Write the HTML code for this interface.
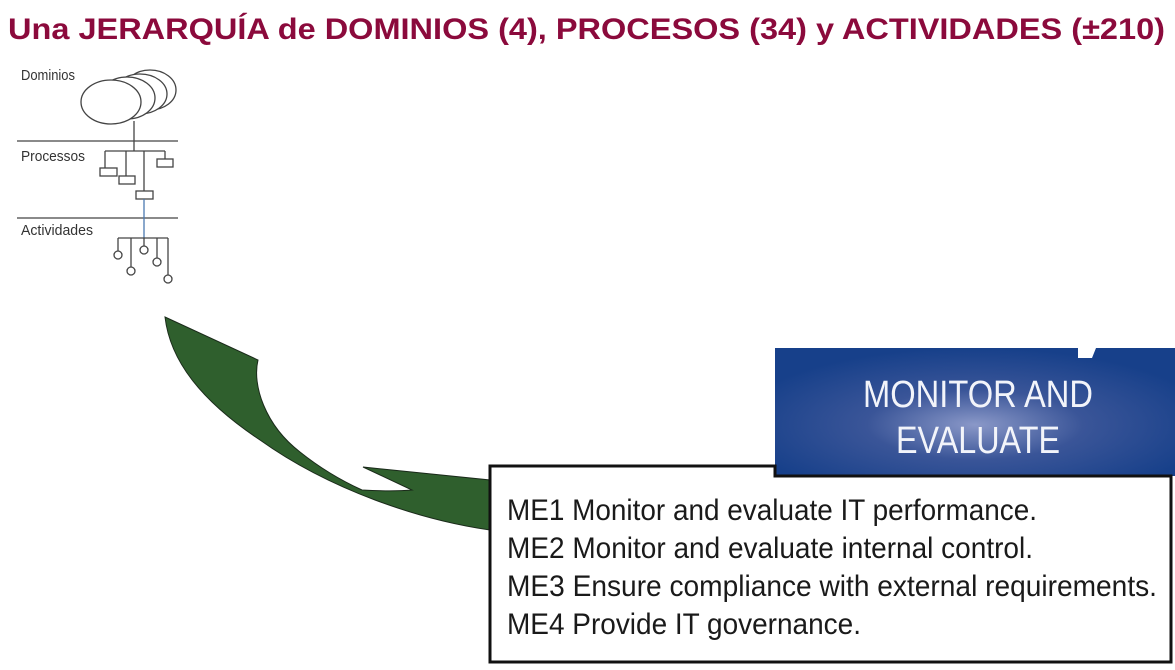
<!DOCTYPE html>
<html><head><meta charset="utf-8"><style>
html,body{margin:0;padding:0;background:#fff;width:1175px;height:670px;overflow:hidden}
svg{display:block}
</style></head><body>
<svg width="1175" height="670" viewBox="0 0 1175 670" xmlns="http://www.w3.org/2000/svg">
<defs>
<radialGradient id="bg" cx="0.5" cy="0.6" r="0.6">
<stop offset="0" stop-color="#8a98c8"/><stop offset="0.45" stop-color="#3a5598"/><stop offset="1" stop-color="#17408a"/>
</radialGradient>
</defs>
<text x="8" y="39" font-family="Liberation Sans, sans-serif" font-weight="bold" font-size="30" fill="#8b0a3c" textLength="1157" lengthAdjust="spacingAndGlyphs">Una JERARQUÍA de DOMINIOS (4), PROCESOS (34) y ACTIVIDADES (±210)</text>

<g stroke="#444" stroke-width="1.3" fill="#fff">
<ellipse cx="150" cy="90" rx="26" ry="20"/>
<ellipse cx="140" cy="94" rx="27" ry="20"/>
<ellipse cx="127" cy="98" rx="28" ry="21"/>
<ellipse cx="111" cy="102" rx="30" ry="22"/>
<line x1="17" y1="141" x2="178" y2="141"/>
<line x1="17" y1="218" x2="178" y2="218"/>
<line x1="134" y1="121" x2="134" y2="151"/>
<line x1="105" y1="151" x2="165" y2="151"/>
<line x1="105" y1="151" x2="105" y2="168"/>
<line x1="126" y1="151" x2="126" y2="176"/>
<line x1="144" y1="151" x2="144" y2="191"/>
<line x1="165" y1="151" x2="165" y2="160"/>
<rect x="100" y="168" width="17" height="8"/>
<rect x="119" y="176" width="16" height="8"/>
<rect x="136" y="191" width="17" height="8"/>
<rect x="157" y="159" width="16" height="8"/>
<line x1="144" y1="199" x2="144" y2="238" stroke="#4a78b0"/>
<line x1="118" y1="238" x2="168" y2="238"/>
<line x1="118" y1="238" x2="118" y2="251"/>
<line x1="131" y1="238" x2="131" y2="267"/>
<line x1="144" y1="238" x2="144" y2="246"/>
<line x1="157" y1="238" x2="157" y2="258"/>
<line x1="168" y1="238" x2="168" y2="275"/>
<circle cx="118" cy="255" r="4"/>
<circle cx="131" cy="271" r="4"/>
<circle cx="144" cy="250" r="4"/>
<circle cx="157" cy="262" r="4"/>
<circle cx="168" cy="279" r="4"/>
</g>
<g font-family="Liberation Sans, sans-serif" font-size="15" fill="#333">
<text x="21" y="80" textLength="54" lengthAdjust="spacingAndGlyphs">Dominios</text>
<text x="21" y="161" textLength="64" lengthAdjust="spacingAndGlyphs">Processos</text>
<text x="21" y="235" textLength="72" lengthAdjust="spacingAndGlyphs">Actividades</text>
</g>

<path d="M165,317 L258,360 C252,385 265,425 300,452 C320,468 340,480 362,490 C380,491 400,491 412,490 L363,467 L490,480 L490,530 C420,520 330,490 260,440 C200,400 170,360 165,317 Z" fill="#2f5f2d" stroke="#1a2a1a" stroke-width="1"/>

<rect x="775" y="348" width="400" height="128" fill="url(#bg)"/>
<path d="M1078,348 L1096,348 L1092,358 L1078,358 Z" fill="#fff"/>
<g font-family="Liberation Sans, sans-serif" font-size="38" fill="#f2f4fa" text-anchor="middle">
<text x="978" y="407" textLength="230" lengthAdjust="spacingAndGlyphs">MONITOR AND</text>
<text x="978" y="453" textLength="164" lengthAdjust="spacingAndGlyphs">EVALUATE</text>
</g>

<path d="M490,466 L775,466 L775,476 L1171,476 L1171,662 L490,662 Z" fill="#fff" stroke="#111" stroke-width="3"/>
<g font-family="Liberation Sans, sans-serif" font-size="30" fill="#1a1a1a">
<text x="507" y="520" textLength="530" lengthAdjust="spacingAndGlyphs">ME1 Monitor and evaluate IT performance.</text>
<text x="507" y="558" textLength="526" lengthAdjust="spacingAndGlyphs">ME2 Monitor and evaluate internal control.</text>
<text x="507" y="596" textLength="650" lengthAdjust="spacingAndGlyphs">ME3 Ensure compliance with external requirements.</text>
<text x="507" y="634" textLength="354" lengthAdjust="spacingAndGlyphs">ME4 Provide IT governance.</text>
</g>
</svg>
</body></html>
